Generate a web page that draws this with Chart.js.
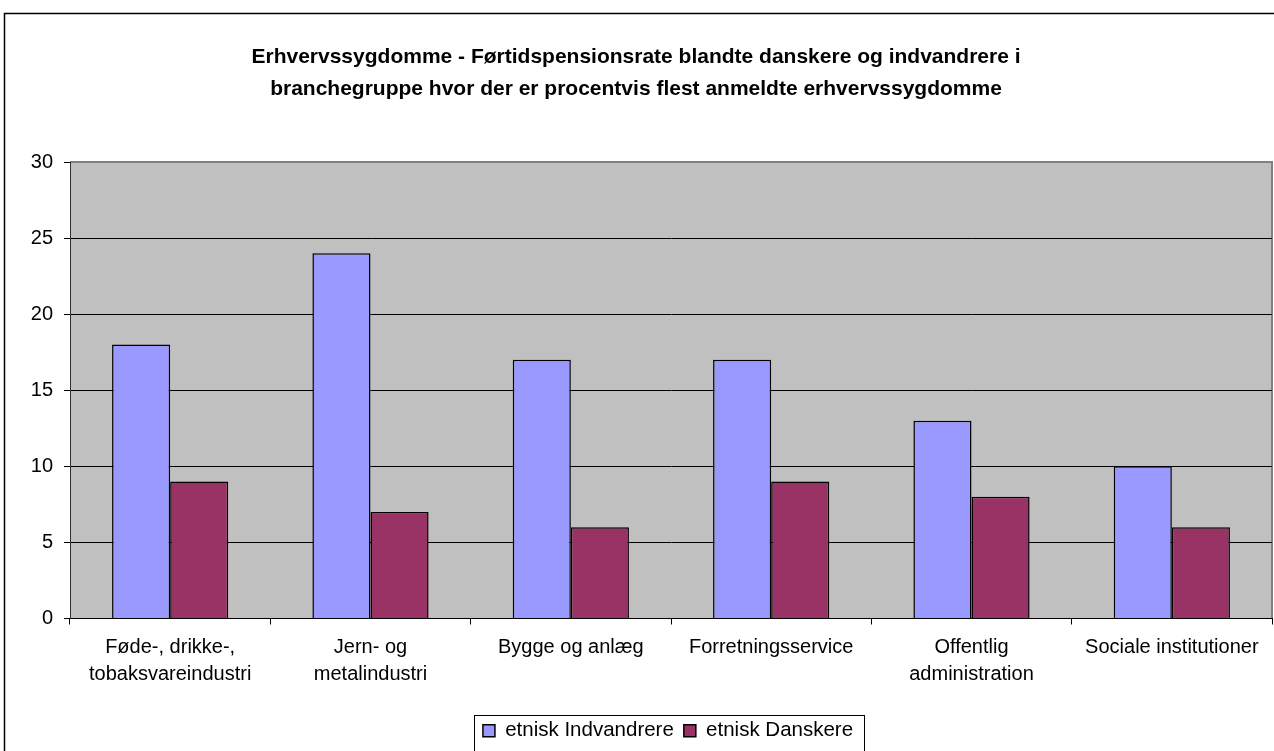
<!DOCTYPE html>
<html>
<head>
<meta charset="utf-8">
<script src="https://cdn.jsdelivr.net/npm/chart.js@4.4.1/dist/chart.umd.min.js"></script>
<style>
  html, body { margin: 0; padding: 0; background: #fff; }
  #wrap { width: 1274px; height: 751px; position: relative; }
</style>
</head>
<body>
<div id="wrap"><canvas id="chartBar"></canvas></div>
<script>
const categories = [
    ["Føde-, drikke-,", "tobaksvareindustri"],
    ["Jern- og", "metalindustri"],
    "Bygge og anlæg",
    "Forretningsservice",
    ["Offentlig", "administration"],
    "Sociale institutioner",
];
const indvandrere = [18, 24, 17, 17, 13, 10];
const danskere = [9, 7, 6, 9, 8, 6];
const yTicks = [0, 5, 10, 15, 20, 25, 30];

const FONT = "'Liberation Sans', Arial, sans-serif";

// grey plot area, frame round the chart and box round the legend
const frames = {
    id: "frames",
    afterLayout(chart) {
        const lg = chart.legend;
        lg.left += 32;
        lg.right += 32;
    },
    beforeDraw(chart) {
        const { ctx, chartArea: a } = chart;
        ctx.save();
        ctx.fillStyle = "#fff";
        ctx.fillRect(0, 0, chart.width, chart.height);
        ctx.fillStyle = "#c0c0c0";
        ctx.fillRect(a.left, a.top, a.right - a.left, a.bottom - a.top);
        ctx.strokeStyle = "#808080";
        ctx.lineWidth = 2;
        ctx.beginPath();
        ctx.moveTo(a.left, a.top);
        ctx.lineTo(a.right, a.top);
        ctx.lineTo(a.right, a.bottom);
        ctx.stroke();
        ctx.strokeStyle = "#000";
        ctx.lineWidth = 1.5;
        ctx.strokeRect(4.5, 13.5, chart.width + 20, chart.height + 20);
        ctx.restore();
    },
    afterDraw(chart) {
        const lg = chart.legend;
        const pad = lg.options.labels.padding;
        const lw = lg.lineWidths[0];
        const x0 = (lg.left + pad + lg.right - lw) / 2;
        const ctx = chart.ctx;
        ctx.save();
        ctx.strokeStyle = "#000";
        ctx.lineWidth = 1;
        ctx.strokeRect(Math.round(x0 - 9) + 0.5, Math.round(lg.top) + 4.5, Math.round(lw - pad + 20), 60);
        ctx.restore();
    },
};

const chartBar = new Chart("chartBar", {
    type: "bar",
    data: {
    labels: categories,
    datasets: [
        {
        label: "etnisk Indvandrere",
        data: indvandrere,
        backgroundColor: "#9999ff",
        borderColor: "#000",
        borderWidth: 1.5,
        },
        {
        label: "etnisk Danskere",
        data: danskere,
        backgroundColor: "#993366",
        borderColor: "#000",
        borderWidth: 1.5,
        },
    ],
    },
    options: {
    responsive: true,
    maintainAspectRatio: false,
    animation: false,
    layout: { padding: { left: 0, right: 2, top: 0, bottom: 0 } },
    datasets: {
        bar: { categoryPercentage: 0.58, barPercentage: 1 },
    },
    plugins: {
        title: {
        display: true,
        text: [
            "Erhvervssygdomme - Førtidspensionsrate blandte danskere og indvandrere i",
            "branchegruppe hvor der er procentvis flest anmeldte erhvervssygdomme",
        ],
        color: "#000",
        font: { family: FONT, size: 21, weight: "bold", lineHeight: 32 / 21 },
        padding: { top: 41, bottom: 57 },
        },
        legend: {
        position: "bottom",
        labels: {
            color: "#000",
            font: { family: FONT, size: 20.5 },
            boxWidth: 12,
            boxHeight: 12,
            padding: 10,
        },
        },
        tooltip: { enabled: false },
    },
    scales: {
        x: {
        grid: {
            offset: true,
            drawOnChartArea: false,
            tickLength: 6,
            color: "#000",
        },
        border: { color: "#000", width: 1 },
        ticks: {
            color: "#000",
            padding: 9,
            maxRotation: 0,
            autoSkip: false,
            font: { family: FONT, size: 20, lineHeight: 1.35 },
        },
        afterFit(scale) { scale.height = 92; },
        },
        y: {
        min: 0,
        max: 30,
        afterBuildTicks(scale) { scale.ticks = yTicks.map(v => ({ value: v })); },
        grid: {
            color: (c) => (c.tick && c.tick.value === 30 ? "#808080" : "#000"),
            tickLength: 6,
            tickColor: "#000",
        },
        border: { color: "#333", width: 1 },
        ticks: {
            color: "#000",
            padding: 11,
            font: { family: FONT, size: 20 },
        },
        afterFit(scale) { scale.width = 70; },
        },
    },
    },
    plugins: [frames],
});
</script>
</body>
</html>
